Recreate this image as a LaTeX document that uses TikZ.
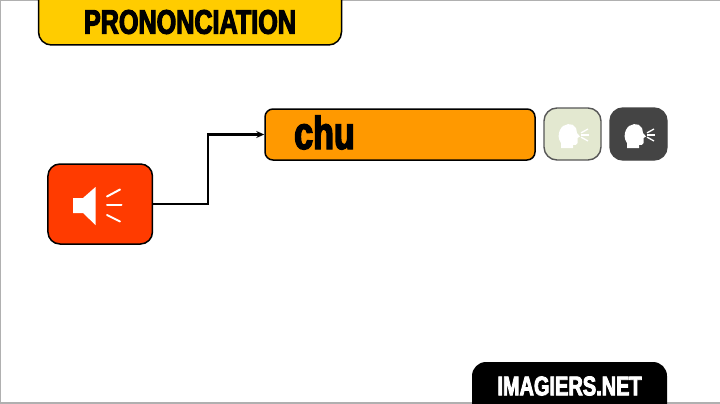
\documentclass[tikz,border=0pt]{standalone}
\usepackage{fontspec}
\usepackage{tikz}
\usetikzlibrary{positioning,calc,arrows.meta}
\newfontfamily\heavyfont[FakeStretch=0.74,FakeBold=3.2]{Liberation Sans Bold}
\definecolor{tabyellow}{HTML}{FFCC00}
\definecolor{speakred}{HTML}{FF3B00}
\definecolor{wordorange}{HTML}{FF9900}
\definecolor{btnlight}{HTML}{E3E8D0}
\definecolor{btndark}{HTML}{444444}
\definecolor{framegray}{HTML}{B0B0B0}
\newcommand{\headicon}[3]{%
  \fill[#3] (#1-9,#2+13) -- (#1-9,#2+8) .. controls (#1-12,#2+4) and (#1-12,#2-1) .. (#1-10,#2-5)
    .. controls (#1-7,#2-12) and (#1+3,#2-13) .. (#1+6,#2-7) -- (#1+7,#2-2) -- (#1+10,#2+1.5) -- (#1+7.5,#2+3)
    -- (#1+7.5,#2+8) .. controls (#1+7.5,#2+10) and (#1+5,#2+10) .. (#1+3,#2+10) -- (#1+3,#2+13) -- cycle;
  \foreach \dx/\dy in {7/-6,8/0,7/6} {
    \draw[#3, line width=1.3pt] (#1+11,#2+\dy*0.35) -- (#1+11+\dx,#2+\dy);
  }
}
\begin{document}
\begin{tikzpicture}[x=1pt,y=-1pt,
  panel/.style={draw=black, line width=1.5pt, inner sep=0pt},
  tabtext/.style={font=\heavyfont, inner sep=0pt},
  link/.style={draw=black, line width=2.2pt, -{Stealth[length=8pt,width=7pt]}},
]
\useasboundingbox (0,0) rectangle (720,404);
\clip (0,0) rectangle (720,404);
\fill[white] (0,0) rectangle (720,404);
\draw[framegray, line width=1pt] (0,0.5) -- (720,0.5);
\draw[framegray, line width=1.2pt] (0.6,0) -- (0.6,404);
\draw[framegray, line width=2pt] (0,403) -- (720,403);

\node[panel, fill=tabyellow, rounded corners=13pt, minimum width=303pt, minimum height=85pt] (tabtop) at (190,2.5) {};
\node[tabtext, text=black, font=\heavyfont\fontsize{34}{34}\selectfont] (titletext) at (190,22) {PRONONCIATION};

\node[panel, fill=speakred, rounded corners=12pt, minimum width=104.5pt, minimum height=80pt] (speaker) at (100.2,204) {};
\node[panel, fill=wordorange, rounded corners=8pt, minimum width=270pt, minimum height=51pt] (word) at (400,134.5) {};
\node[tabtext, text=black, font=\heavyfont\fontsize{46}{46}\selectfont, anchor=base west] (wordtext) at (294,149) {chu};

\node[draw=btndark!90, fill=btnlight, line width=1.4pt, rounded corners=13pt, minimum width=57pt, minimum height=52pt, inner sep=0pt] (listen) at (572.5,134) {};
\node[draw=btndark, fill=btndark, line width=1.4pt, rounded corners=13pt, minimum width=57pt, minimum height=52pt, inner sep=0pt] (record) at (638.5,134) {};
\headicon{570}{135}{white}
\headicon{636}{135}{white}

\coordinate (bend) at (208,170);
\path[link] (speaker.east) -| (bend) |- (word.west);

\fill[white] (73,198) -- (83,198) -- (95.5,187) -- (95.5,225) -- (83,213) -- (73,213) -- cycle;
\draw[white, line width=2pt, line cap=round] (107,196.5) -- (120,189.5);
\draw[white, line width=2pt, line cap=round] (107,205.3) -- (121.5,205.3);
\draw[white, line width=2pt, line cap=round] (107,215) -- (120,221.5);

\node[fill=black, rounded corners=14pt, minimum width=195pt, minimum height=70pt, inner sep=0pt] (tabbottom) at (569.5,397) {};
\node[tabtext, text=white, font=\heavyfont\fontsize{27}{27}\selectfont] (sitetext) at (569.5,386) {IMAGIERS.NET};
\end{tikzpicture}
\end{document}
